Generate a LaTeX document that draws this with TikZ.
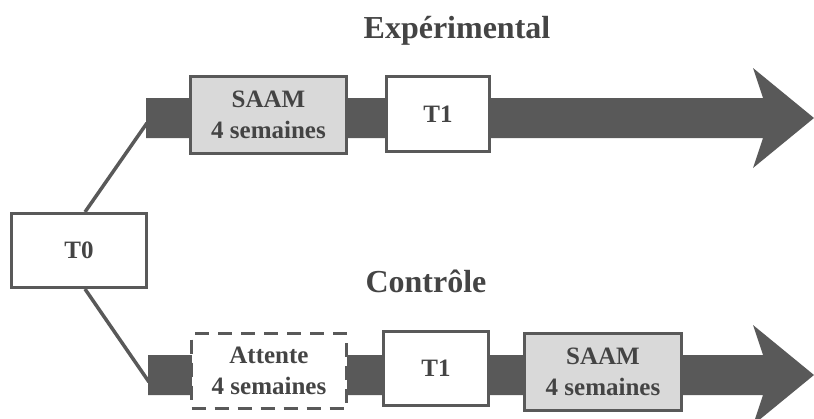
\documentclass[tikz,border=0pt]{standalone}
\usepackage{fontspec}
\setmainfont{Liberation Serif}
\usetikzlibrary{calc}

\definecolor{bargray}{HTML}{595959}
\definecolor{boxfill}{HTML}{D9D9D9}
\definecolor{textgray}{HTML}{444444}

\tikzset{
    stagebox/.style={draw=bargray, line width=3pt, fill=white, align=center,
        text=textgray, inner sep=0pt, font=\fontsize{25}{31}\selectfont\bfseries},
    treatbox/.style={stagebox, fill=boxfill},
    waitbox/.style={stagebox, dash pattern=on 14pt off 9pt},
    grouplabel/.style={text=textgray, anchor=base, font=\fontsize{32}{38}\selectfont\bfseries},
    link/.style={draw=bargray, line width=3.5pt},
}

\begin{document}
\begin{tikzpicture}[x=1pt, y=-1pt]

    % Fix the page size
    \useasboundingbox (0,0) rectangle (814,418);
    \clip (0,0) rectangle (814,418);

    % Define start of the two bars
    \coordinate (barA) at (146,118);
    \coordinate (barB) at (148,375);

    % Define where the links meet the bars
    \coordinate (joinA) at (147,123);
    \coordinate (joinB) at (149,382);

    % Draw the starting box T0
    \node[stagebox, minimum width=135pt, minimum height=74pt] (t0) at (79,250.5) {T0};

    % Draw the links from T0 to the two groups
    \draw[link] ($(t0.north)+(6,0)$) -- (joinA);
    \draw[link] ($(t0.south)+(6,0)$) -- (joinB);

    % Draw the two large arrows
    \fill[bargray] ($(barA)+(0,-20)$) -- ++(617,0) -- ++(-10,-30) -- ++(61,50)
        -- ++(-61,50) -- ++(10,-30) -- ++(-617,0) -- cycle;
    \fill[bargray] ($(barB)+(0,-20)$) -- ++(615,0) -- ++(-10,-30) -- ++(61,50)
        -- ++(-61,50) -- ++(10,-30) -- ++(-615,0) -- cycle;

    % Experimental group
    \node[treatbox, minimum width=156pt, minimum height=77pt] (saamA) at (268.5,115) {SAAM\\4 semaines};
    \node[stagebox, minimum width=103pt, minimum height=75pt] (t1A) at (438,114) {T1};

    % Control group
    \node[waitbox, minimum width=155pt, minimum height=75pt] (attente) at (269,371) {Attente\\4 semaines};
    \node[stagebox, minimum width=105pt, minimum height=74pt] (t1B) at (436,368.5) {T1};
    \node[treatbox, minimum width=157pt, minimum height=77pt] (saamB) at (603,372) {SAAM\\4 semaines};

    % Add labels
    \node[grouplabel] (expLabel) at (457,38) {Expérimental};
    \node[grouplabel] (ctrlLabel) at (426,292) {Contrôle};

\end{tikzpicture}
\end{document}
